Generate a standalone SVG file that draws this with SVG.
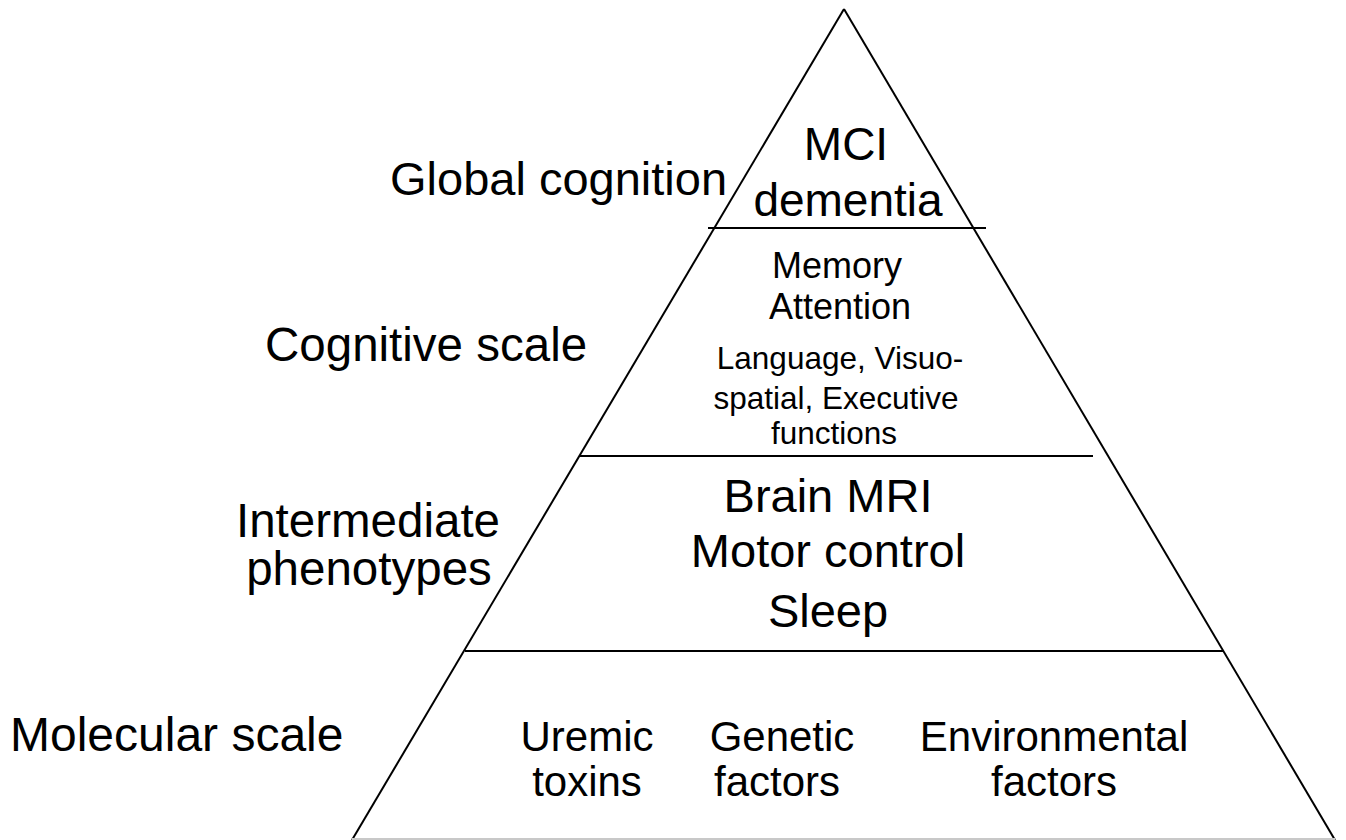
<svg xmlns="http://www.w3.org/2000/svg" width="1346" height="840" viewBox="0 0 1346 840">
<style>
text{font-family:"Liberation Sans",Arial,sans-serif;fill:#000}
.m{text-anchor:middle}
.edge{stroke:#000;stroke-width:2;fill:none}
.div{stroke:#000;stroke-width:2}
</style>
<rect width="1346" height="840" fill="#fff"/>
<g id="pyramid">
<line class="edge" x1="844" y1="9" x2="352" y2="840"/>
<line class="edge" x1="844" y1="9" x2="1335" y2="840"/>
<line x1="352" y1="839" x2="1335" y2="839" stroke="#c8c8c8" stroke-width="2"/>
</g>
<g id="dividers">
<line class="div" x1="708" y1="228" x2="986" y2="228"/>
<line class="div" x1="580" y1="456" x2="1093" y2="456"/>
<line class="div" x1="465" y1="651" x2="1223" y2="651"/>
</g>
<g id="global-cognition">
<text x="390" y="195" font-size="47">Global cognition</text>
<text class="m" x="846" y="160" font-size="46">MCI</text>
<text class="m" x="848" y="216" font-size="46">dementia</text>
</g>
<g id="cognitive-scale">
<text x="265" y="361" font-size="47.5">Cognitive scale</text>
<text class="m" x="837" y="278" font-size="36">Memory</text>
<text class="m" x="840" y="319" font-size="36">Attention</text>
<text class="m" x="840" y="369" font-size="31.5">Language, Visuo-</text>
<text class="m" x="836" y="409" font-size="31.5">spatial, Executive</text>
<text class="m" x="834" y="444" font-size="31.5">functions</text>
</g>
<g id="intermediate-phenotypes">
<text class="m" x="368" y="537" font-size="47.5">Intermediate</text>
<text class="m" x="369" y="585" font-size="47.5">phenotypes</text>
<text class="m" x="828" y="512" font-size="47">Brain MRI</text>
<text class="m" x="828" y="567" font-size="47">Motor control</text>
<text class="m" x="828" y="627" font-size="47">Sleep</text>
</g>
<g id="molecular-scale">
<text x="10" y="751" font-size="48">Molecular scale</text>
<text class="m" x="587" y="751" font-size="42">Uremic</text>
<text class="m" x="587" y="796" font-size="42">toxins</text>
<text class="m" x="782" y="751" font-size="42">Genetic</text>
<text class="m" x="777" y="796" font-size="42">factors</text>
<text class="m" x="1054" y="751" font-size="42">Environmental</text>
<text class="m" x="1054" y="796" font-size="42">factors</text>
</g>
</svg>
